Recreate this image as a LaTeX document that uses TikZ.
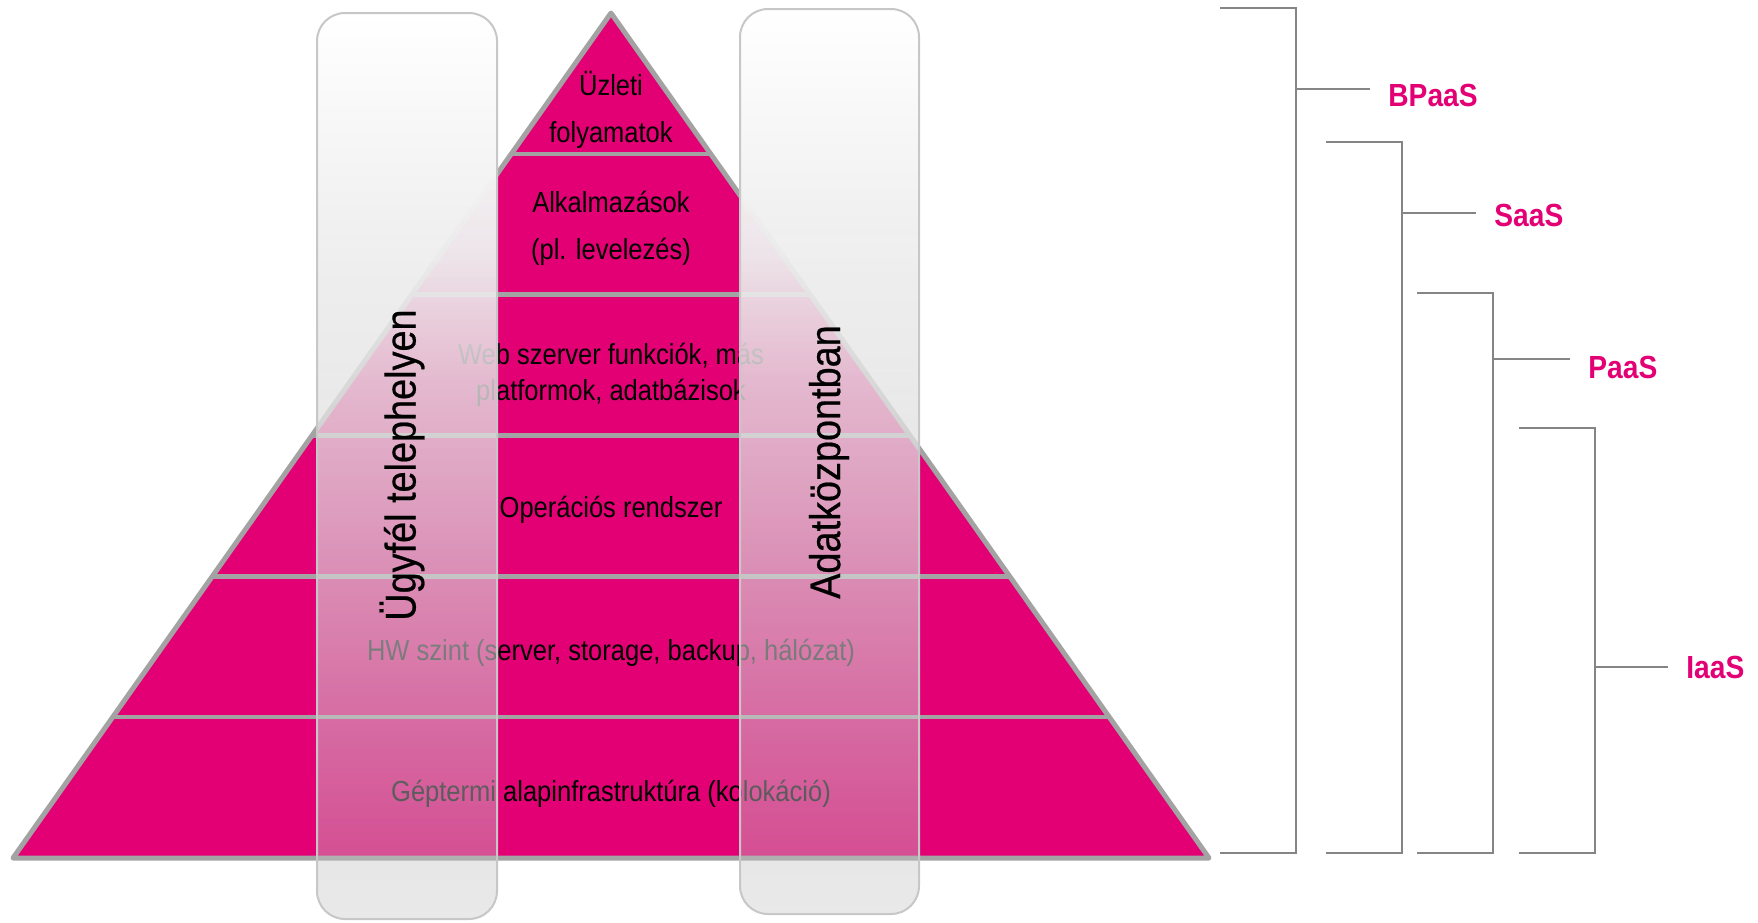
\documentclass[tikz,border=0pt]{standalone}
\usepackage{fontspec}
\setmainfont{Liberation Sans}
\newfontfamily\narrowsans[FakeStretch=0.88]{Liberation Sans}
\newfontfamily\sidesans[FakeStretch=0.88, FakeBold=0.5]{Liberation Sans}
\usetikzlibrary{calc,fadings,shadings}

\definecolor{tmagenta}{HTML}{E20074}
\definecolor{edgegray}{HTML}{A3A3A3}
\definecolor{bracketgray}{HTML}{858585}

% opacity of the glass columns, bottom (25bp) to top (75bp)
\pgfdeclareverticalshading{colshade}{100bp}{color(0bp)=(black!70); color(25bp)=(black!70);
  color(28.5bp)=(black!64); color(48bp)=(black!28); color(54bp)=(black!19);
  color(57.5bp)=(black!11); color(60bp)=(black!4); color(64.5bp)=(black!1);
  color(75bp)=(black!0); color(100bp)=(black!0)}
\begin{tikzfadingfrompicture}[name=colfade]
  \shade[shading=colshade] (0,0) rectangle (2,2);
\end{tikzfadingfrompicture}

\begin{document}
\begin{tikzpicture}[
      x=0.5pt, y=-0.5pt,
      every node/.style={align=center, inner sep=0pt},
      layertext/.style={font=\narrowsans\fontsize{14.5}{23.5}\selectfont},
      sidelabel/.style={rotate=90, font=\sidesans\fontsize{21.5}{26}\selectfont},
      service/.style={anchor=west, inner xsep=9pt, text=tmagenta,
        font=\narrowsans\bfseries\fontsize{16}{19}\selectfont},
      layerline/.style={draw=edgegray, line width=2.2pt},
      pyramidedge/.style={draw=edgegray, line width=2.5pt, line join=round},
      column/.style={rounded corners=14pt, top color=white, bottom color=black!25},
      colrim/.style={rounded corners=14pt, draw=black!22, line width=1pt},
      bracket/.style={draw=bracketgray, line width=1.2pt}
  ]
  \useasboundingbox (0,0) rectangle (1758,922);

  % Pyramid corners
  \coordinate (apex) at (611,13);
  \coordinate (baseL) at (13,858);
  \coordinate (baseR) at (1209,858);

  % Pyramid body, layer lines and outline
  \fill[tmagenta] (apex) -- (baseL) -- (baseR) -- cycle;
  \foreach \k in {1,...,5}
    \draw[layerline] ($(apex)!\k/6!(baseL)$) -- ($(apex)!\k/6!(baseR)$);
  \draw[pyramidedge] (apex) -- (baseL) -- (baseR) -- cycle;

  % Layer labels
  \node[layertext] (business) at (611,110) {Üzleti\\folyamatok};
  \node[layertext] (apps) at (611,228) {Alkalmazások\\(pl. levelezés)};
  \node[layertext, font=\narrowsans\fontsize{14.5}{18}\selectfont] (platform) at (611,375)
    {Web szerver funkciók, más\\platformok, adatbázisok};
  \node[layertext] (os) at (611,510) {Operációs rendszer};
  \node[layertext] (hw) at (611,653) {HW szint (server, storage, backup, hálózat)};
  \node[layertext] (colo) at (611,794) {Géptermi alapinfrastruktúra (kolokáció)};

  % Glass columns over the pyramid
  \path[column, path fading=colfade] (317,13) rectangle (497,919);
  \draw[colrim] (317,13) rectangle (497,919);
  \path[column, path fading=colfade] (740,9) rectangle (919,914);
  \draw[colrim] (740,9) rectangle (919,914);

  \node[sidelabel] (onsite) at (402,465) {Ügyfél telephelyen};
  \node[sidelabel] (datacenter) at (829,462) {Adatközpontban};

  % Service brackets
  \coordinate (b1top) at (1220,8);    \coordinate (b1corner) at (1296,853);
  \coordinate (b1bot) at (1220,853);  \coordinate (b1tick) at (1296,89);
  \coordinate (b2top) at (1326,142);  \coordinate (b2corner) at (1402,853);
  \coordinate (b2bot) at (1326,853);  \coordinate (b2tick) at (1402,213);
  \coordinate (b3top) at (1417,293);  \coordinate (b3corner) at (1493,853);
  \coordinate (b3bot) at (1417,853);  \coordinate (b3tick) at (1493,359);
  \coordinate (b4top) at (1519,428);  \coordinate (b4corner) at (1595,853);
  \coordinate (b4bot) at (1519,853);  \coordinate (b4tick) at (1595,667);

  \node[service] (bpaas) at (1370,95) {BPaaS};
  \node[service] (saas) at (1476,215) {SaaS};
  \node[service] (paas) at (1570,367) {PaaS};
  \node[service] (iaas) at (1668,667) {IaaS};

  \draw[bracket] (b1top) -| (b1corner) -- (b1bot);
  \draw[bracket] (b1tick) -- (b1tick -| bpaas.west);
  \draw[bracket] (b2top) -| (b2corner) -- (b2bot);
  \draw[bracket] (b2tick) -- (b2tick -| saas.west);
  \draw[bracket] (b3top) -| (b3corner) -- (b3bot);
  \draw[bracket] (b3tick) -- (b3tick -| paas.west);
  \draw[bracket] (b4top) -| (b4corner) -- (b4bot);
  \draw[bracket] (b4tick) -- (b4tick -| iaas.west);

\end{tikzpicture}
\end{document}
